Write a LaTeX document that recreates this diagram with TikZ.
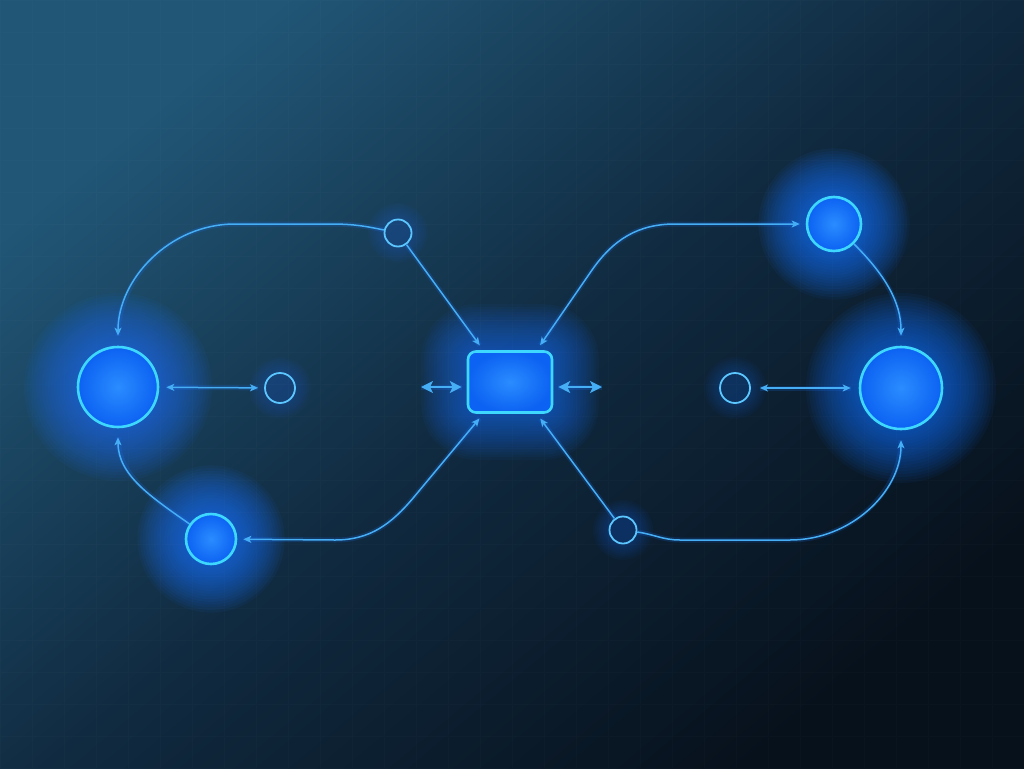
\documentclass[tikz,border=0pt]{standalone}
\usetikzlibrary{arrows.meta, calc}

\definecolor{bgtop}{HTML}{215676}
\definecolor{bgmid}{HTML}{102A40}
\definecolor{bgbot}{HTML}{07111C}
\definecolor{nodeblue}{HTML}{0C62F2}
\definecolor{hubcore}{HTML}{2A8CFF}
\definecolor{rimcyan}{HTML}{3ED8FF}
\definecolor{wireblue}{HTML}{46AEF4}
\definecolor{ringblue}{HTML}{5CC6FF}
\definecolor{glowblue}{HTML}{1A74FF}

\tikzset{every picture/.style={x=1pt, y=1pt},
         >={Stealth[length=8pt, width=7pt, inset=2pt]},
         wide/.tip={Stealth[length=12pt, width=12pt, inset=3pt]},
         hub/.style={circle, draw=rimcyan, line width=2.6pt, inner color=hubcore, outer color=nodeblue, minimum size=#1, inner sep=0pt},
         ring/.style={circle, draw=ringblue, line width=1.8pt, minimum size=#1, inner sep=0pt},
         core/.style={rectangle, rounded corners=8pt, draw=rimcyan, line width=2.6pt, inner color=hubcore, outer color=nodeblue, minimum width=84pt, minimum height=61pt},
         link/.style={draw=wireblue, line width=1.5pt, ->, shorten >=6pt, preaction={draw=glowblue, line width=5pt, draw opacity=0.18, -}},
         stub/.style={draw=wireblue, line width=1.6pt, wide-wide, preaction={draw=glowblue, line width=5pt, draw opacity=0.18, -}},
         halo/.style={fill=glowblue, fill opacity=#1}
}

\begin{document}
\begin{tikzpicture}
  % backdrop
  \useasboundingbox (0,0) rectangle (1024,-768);
  \shade[top color=bgtop, bottom color=bgbot, middle color=bgmid, shading angle=40] (0,0) rectangle (1024,-768);
  \draw[white, opacity=0.015, line width=0.5pt, step=32] (0,0) grid (1024,-768);

  \coordinate (pL) at (118,-387);
  \coordinate (pR) at (901,-388);
  \coordinate (pT) at (834,-224);
  \coordinate (pB) at (211,-539);
  \coordinate (pC) at (510,-382);

  % glows, stacked rings
  \foreach \k in {1,...,18} {
    \fill[halo=0.05] (pL) circle (40+3*\k);
    \fill[halo=0.05] (pR) circle (41+3*\k);
    \fill[halo=0.06] (pT) circle (27+2.7*\k);
    \fill[halo=0.06] (pB) circle (25+2.7*\k);
    \fill[halo=0.045, rounded corners=8pt+2.6pt*\k] ($(pC)+(-42-2.6*\k,-31-2.6*\k)$) rectangle ($(pC)+(42+2.6*\k,31+2.6*\k)$);
  }
  \foreach \k in {1,...,8} {
    \fill[halo=0.03] (280,-388) circle (15+2*\k);
    \fill[halo=0.03] (735,-388) circle (15+2*\k);
    \fill[halo=0.03] (398,-233) circle (14+2*\k);
    \fill[halo=0.035] (623,-530) circle (14+2*\k);
  }

  \node[hub=80pt] (bigL) at (pL) {};
  \node[hub=82pt] (bigR) at (pR) {};
  \node[hub=54pt] (rT) at (pT) {};
  \node[hub=50pt] (bL) at (pB) {};
  \node[core] (rect) at (pC) {};
  \node[ring=30pt] (hl) at (280,-388) {};
  \node[ring=30pt] (hr) at (735,-388) {};
  \node[ring=27pt] (lt) at (398,-233) {};
  \node[ring=27pt] (rb) at (623,-530) {};
  \coordinate (lw) at (421,-387);
  \coordinate (re) at (602,-387);

  % left loop
  \draw[link, shorten >=10pt] (lt) to[out=168, in=0] (330,-224) -- (235,-224) to[out=180, in=90] (bigL);
  \draw[link] (lt) -- (rect.130);
  \draw[link, <->, shorten <=6pt] (rect.230) -- (414,-497) to[out=230, in=0] (335,-540) -- (bL);
  \draw[link, shorten >=9pt] (bL) to[out=145, in=-90] (bigL);
  \draw[link, <->, shorten <=7pt] (bigL) -- (hl);

  % right loop
  \draw[link, <->, shorten <=6pt] (rect.50) -- (592,-270) to[out=55, in=180] (675,-224) -- (rT);
  \draw[link, shorten >=10pt] (rT) to[out=-45, in=90] (bigR);
  \draw[link, shorten >=10pt] (rb) to[out=-8, in=180] (680,-540) -- (790,-540) to[out=0, in=-90] (bigR);
  \draw[link] (rb) -- (rect.310);
  \draw[link, <->, shorten <=9pt, shorten >=8pt] (hr) -- (bigR);

  % stubs on the hub
  \draw[stub, shorten >=5pt] (lw) -- (lw -| rect.west);
  \draw[stub, shorten <=5pt] (rect.east |- re) -- (re);
\end{tikzpicture}
\end{document}
